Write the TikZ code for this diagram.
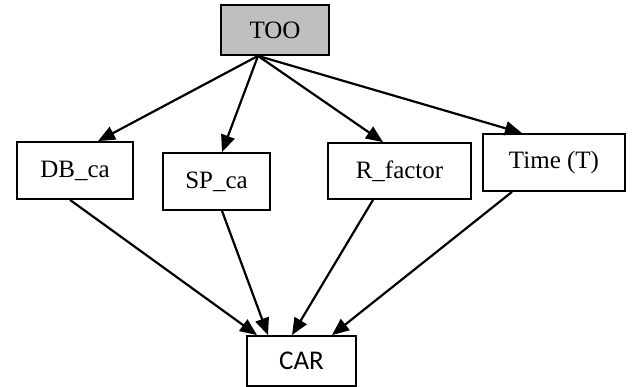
\documentclass[tikz,border=0pt]{standalone}
\usepackage{fontspec}
\setmainfont{Liberation Serif}
\newfontfamily\calib{Carlito}
\usetikzlibrary{arrows.meta}
\begin{document}
\begin{tikzpicture}[x=1pt,y=-1pt,
  box/.style={draw=black,line width=1.8pt,rectangle,inner sep=0pt,font=\fontsize{25}{28}\selectfont},
  conn/.style={line width=2.2pt,-{Triangle[length=17pt,width=14pt]}}]
\useasboundingbox (0,0) rectangle (632,387);
\node[box,fill=black!25,minimum width=108pt,minimum height=50pt] (too) at (275,30) {TOO\hspace{14pt}};
\node[box,minimum width=116pt,minimum height=57pt] (db) at (75,170.5) {DB\_ca};
\node[box,minimum width=107pt,minimum height=57pt] (sp) at (216.5,181.5) {\raisebox{3pt}{SP\_ca}};
\node[box,minimum width=143pt,minimum height=56pt] (rf) at (399.5,171) {R\_factor};
\node[box,minimum width=142pt,minimum height=57pt] (tm) at (554,162.5) {\raisebox{3pt}{Time (T)}\hspace{8pt}};
\node[box,minimum width=109pt,minimum height=50pt,font=\calib\fontsize{27}{29}\selectfont] (car) at (301.5,361) {CAR\hspace{16pt}};
\coordinate (o) at ([xshift=-17pt]too.south);
\draw[conn] (o) -- ([xshift=23pt]db.north);
\draw[conn] (o) -- ([xshift=5.5pt]sp.north);
\draw[conn] (o) -- ([xshift=-16.5pt]rf.north);
\draw[conn] (o) -- ([xshift=-32pt]tm.north);
\draw[conn] ([xshift=-5pt]db.south) -- ([xshift=-44.5pt]car.north);
\draw[conn] ([xshift=5.5pt]sp.south) -- ([xshift=-33.5pt]car.north);
\draw[conn] ([xshift=-26.5pt]rf.south) -- ([xshift=-9.5pt]car.north);
\draw[conn] ([xshift=-42pt]tm.south) -- ([xshift=30.5pt]car.north);
\end{tikzpicture}
\end{document}
